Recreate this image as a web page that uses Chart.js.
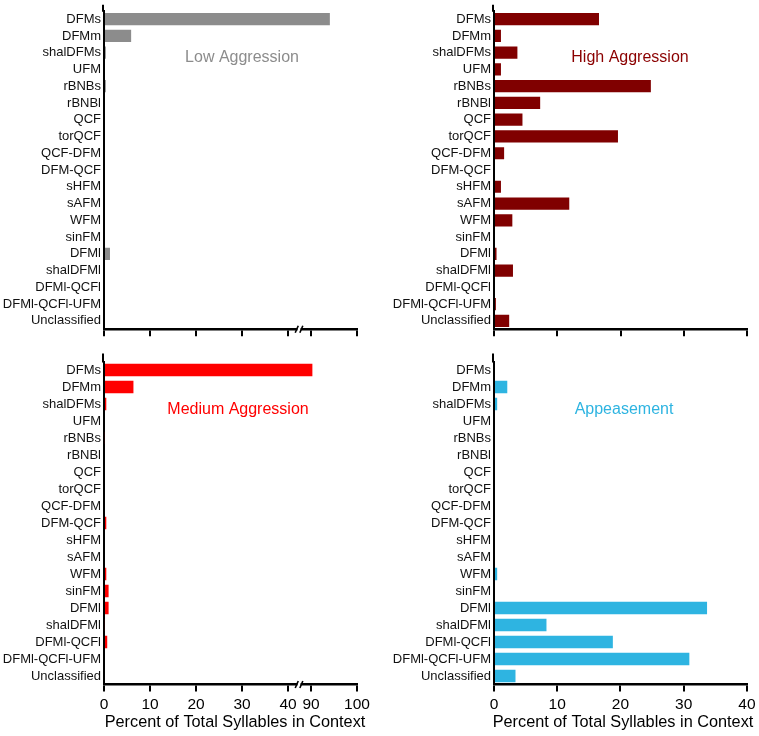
<!DOCTYPE html>
<html><head><meta charset="utf-8">
<script src="https://cdn.jsdelivr.net/npm/chart.js@4/dist/chart.umd.min.js"></script>
<style>
html,body{margin:0;padding:0;background:#fff;}
#wrap{position:relative;width:759px;height:736px;overflow:hidden;}
.p{position:absolute;}
</style></head><body>
<div id="wrap">
<div class="p" style="left:0;top:0;width:380px;height:340px"><canvas id="c1"></canvas></div>
<div class="p" style="left:380px;top:0;width:379px;height:340px"><canvas id="c2"></canvas></div>
<div class="p" style="left:0;top:340px;width:380px;height:396px"><canvas id="c3"></canvas></div>
<div class="p" style="left:380px;top:340px;width:379px;height:396px"><canvas id="c4"></canvas></div>
</div>
<script>
const categories = ['DFMs','DFMm','shalDFMs','UFM','rBNBs','rBNBl','QCF','torQCF','QCF-DFM','DFM-QCF','sHFM','sAFM','WFM','sinFM','DFMl','shalDFMl','DFMl-QCFl','DFMl-QCFl-UFM','Unclassified'];
const lowAggression    = [94.1,5.9,0.4,0,0.4,0,0,0,0,0,0,0,0,0,1.3,0,0,0,0];
const highAggression   = [16.6,1.1,3.7,1.1,24.8,7.3,4.5,19.6,1.6,0,1.1,11.9,2.9,0,0.4,3.0,0,0.3,2.4];
const mediumAggression = [90.3,6.4,0.5,0,0.2,0,0,0,0,0.5,0,0,0.5,1.0,1.0,0.2,0.7,0,0];
const appeasement      = [0,2.1,0.5,0,0,0,0,0,0,0,0,0,0.5,0,33.7,8.3,18.8,30.9,3.4];
const brokenTicks = [0,10,20,30,40,90,100];
const plainTicks  = [0,10,20,30,40];
const xTitle = 'Percent of Total Syllables in Context';

// broken axis: 40..90 is compressed into a 5-unit gap
const BREAK_LO = 40, BREAK_HI = 90, BREAK_GAP = 5;
function toAxis(v){ return v <= BREAK_LO ? v : v - BREAK_HI + BREAK_LO + BREAK_GAP; }

const FONT = "'Liberation Sans', Arial, Helvetica, sans-serif";
Chart.defaults.font.family = FONT;
Chart.defaults.animation = false;

const panelText = {
  id: 'panelText',
  afterDraw(chart, args, o){
    const ctx = chart.ctx;
    ctx.save();
    ctx.font = '16px ' + FONT;
    ctx.fillStyle = o.color;
    ctx.textAlign = 'center';
    ctx.textBaseline = 'middle';
    ctx.fillText(o.text, o.x, o.y);
    ctx.restore();
  }
};
const axisExtend = {
  id: 'axisExtend',
  afterDraw(chart, args, o){
    const ctx = chart.ctx, a = chart.chartArea;
    ctx.save();
    ctx.strokeStyle = '#000'; ctx.lineWidth = 2;
    ctx.beginPath();
    ctx.moveTo(a.left - 1, a.top - o.ext);
    ctx.lineTo(a.left - 1, a.top + 1);
    ctx.stroke();
    ctx.restore();
  }
};
const breakMark = {
  id: 'breakMark',
  afterDraw(chart, args, o){
    if (!o.on) return;
    const ctx = chart.ctx, a = chart.chartArea;
    const x = chart.scales.x.getPixelForValue(42.4);
    const y = a.bottom;
    ctx.save();
    ctx.fillStyle = '#fff';
    ctx.fillRect(x - 1.5, y - 3, 3, 6);
    ctx.strokeStyle = '#000'; ctx.lineWidth = 1.6;
    [-2.3, 2.3].forEach(d => {
      ctx.beginPath();
      ctx.moveTo(x + d - 1.5, y + 3.5);
      ctx.lineTo(x + d + 1.5, y - 3.5);
      ctx.stroke();
    });
    ctx.restore();
  }
};
const axisTitle = {
  id: 'axisTitle',
  afterDraw(chart, args, o){
    if (!o.on) return;
    const ctx = chart.ctx;
    ctx.save();
    ctx.font = '16.3px ' + FONT;
    ctx.fillStyle = '#000';
    ctx.textAlign = 'center';
    ctx.textBaseline = 'middle';
    ctx.fillText(xTitle, o.x, o.y);
    ctx.restore();
  }
};

function makeChart(id, values, p){
  const tickList = p.broken ? brokenTicks : plainTicks;
  const data = p.broken ? values.map(toAxis) : values;
  return new Chart(document.getElementById(id), {
    type: 'bar',
    data: { labels: categories, datasets: [{ data: data, backgroundColor: p.color, borderWidth: 0,
      barPercentage: 0.73, categoryPercentage: 1 }] },
    options: {
      indexAxis: 'y', responsive: true, maintainAspectRatio: false,
      layout: { padding: { top: p.top, right: p.right, left: 0, bottom: 0 } },
      plugins: { legend: { display: false }, tooltip: { enabled: false },
        panelText: { text: p.title, color: p.titleColor, x: p.tx, y: p.ty },
        axisExtend: { ext: p.ext },
        breakMark: { on: p.broken },
        axisTitle: { on: p.labels, x: p.axx, y: 383 } },
      scales: {
        x: {
          type: 'linear', min: 0, max: p.broken ? toAxis(100) : 40,
          afterBuildTicks: s => { s.ticks = tickList.map(v => ({ value: p.broken ? toAxis(v) : v })); },
          ticks: { display: p.labels, autoSkip: false, maxRotation: 0, padding: 3.5,
            color: '#000', font: { size: 15.5 }, callback: (v, i) => String(tickList[i]) },
          grid: { display: true, drawOnChartArea: false, drawTicks: true, tickLength: 7, color: '#000', lineWidth: 2 },
          border: { display: true, color: '#000', width: 2.5 },
          title: { display: false },
          afterFit: s => { s.height = p.xh; }
        },
        y: {
          type: 'category', offset: true,
          grid: { display: false, drawTicks: false },
          border: { display: true, color: '#000', width: 2 },
          ticks: { autoSkip: false, padding: 3, color: '#111', font: { size: 13 } },
          afterFit: s => { s.width = p.yw; }
        }
      }
    },
    plugins: [panelText, axisExtend, breakMark, axisTitle]
  });
}

makeChart('c1', lowAggression,    { color: '#8c8c8c', title: 'Low Aggression',    titleColor: '#8c8c8c', tx: 242, ty: 58, broken: true,  labels: false, top: 9,  right: 23, xh: 8,  yw: 104, ext: 6 });
makeChart('c2', highAggression,   { color: '#800000', title: 'High Aggression',   titleColor: '#8b0000', tx: 250, ty: 58, broken: false, labels: false, top: 9,  right: 12, xh: 8,  yw: 114, ext: 6 });
makeChart('c3', mediumAggression, { color: '#ff0000', title: 'Medium Aggression', titleColor: '#ff0000', tx: 238, ty: 70, broken: true,  labels: true,  top: 21.5, right: 23, xh: 51.5, yw: 104, ext: 8, axx: 235 });
makeChart('c4', appeasement,      { color: '#2eb4e1', title: 'Appeasement',       titleColor: '#2eb4e1', tx: 244, ty: 70, broken: false, labels: true,  top: 21.5, right: 12, xh: 51.5, yw: 114, ext: 8, axx: 243 });
</script>
</body></html>
